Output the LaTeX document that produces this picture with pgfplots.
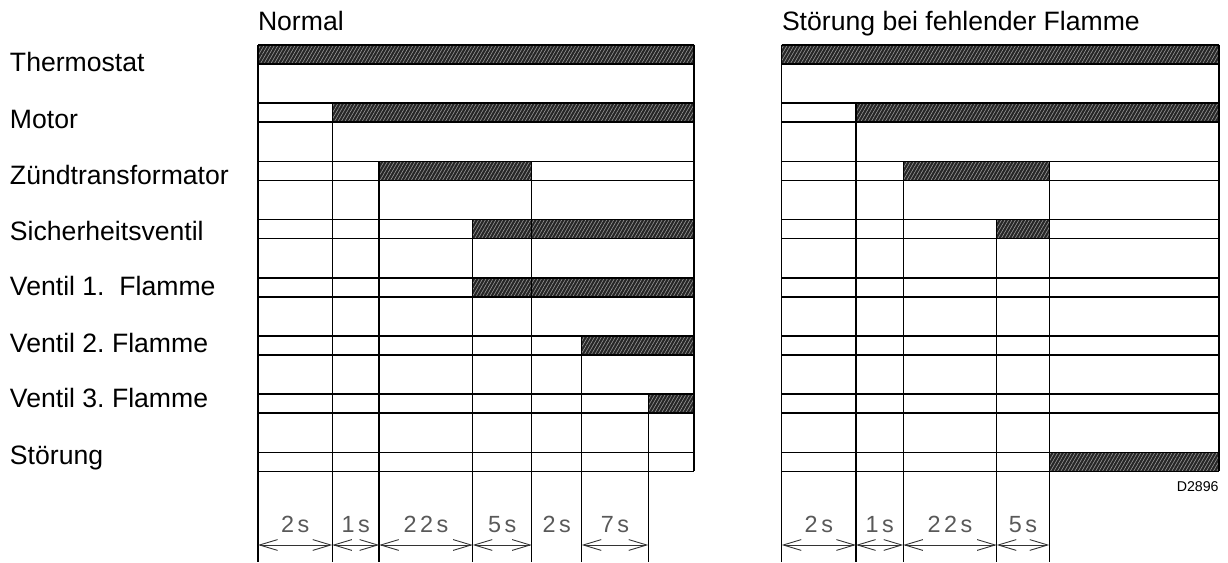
\documentclass[border=0pt]{standalone}
\usepackage{pgfplots}
\pgfplotsset{compat=1.18}
\usepackage{fontspec}
\setmainfont{Liberation Sans}
\newfontfamily\dimfont[LetterSpace=15]{Liberation Sans}
\usetikzlibrary{arrows.meta,patterns.meta}
\frenchspacing
\begin{document}
\begin{tikzpicture}[lab/.style={font=\fontsize{13.3}{16}\selectfont, inner sep=0pt, outer sep=0pt}]
\begin{axis}[scale only axis, width=614pt, height=281pt,
  xmin=0, xmax=1228, ymin=0, ymax=562, y dir=reverse,
  axis lines=none, clip=false,
  hatch/.style={draw=none, fill=black!85,
     postaction={pattern={Lines[angle=60,distance=1.5pt,line width=0.3pt]}, pattern color=black!40}},
  ln/.style={black, line width=0.75pt, mark=none},
  dim/.style={black!80, line width=0.45pt, mark=none,
     {Straight Barb[length=9pt,width=5.4pt]}-{Straight Barb[length=9pt,width=5.4pt]}}]
\path (rel axis cs:0,0) rectangle (rel axis cs:1,1);
% ---- hatched (on) segments, left panel
\addplot[hatch] coordinates {(258,45) (694,45) (694,64) (258,64) (258,45)};
\addplot[hatch] coordinates {(332.3,103.2) (694,103.2) (694,122.2) (332.3,122.2) (332.3,103.2)};
\addplot[hatch] coordinates {(379.2,161.4) (531.7,161.4) (531.7,180.4) (379.2,180.4) (379.2,161.4)};
\addplot[hatch] coordinates {(472.7,219.6) (694,219.6) (694,238.6) (472.7,238.6) (472.7,219.6)};
\addplot[hatch] coordinates {(472.7,277.8) (694,277.8) (694,296.8) (472.7,296.8) (472.7,277.8)};
\addplot[hatch] coordinates {(581.7,336) (694,336) (694,355) (581.7,355) (581.7,336)};
\addplot[hatch] coordinates {(648.3,394.2) (694,394.2) (694,413.2) (648.3,413.2) (648.3,394.2)};
% ---- hatched segments, right panel
\addplot[hatch] coordinates {(781.7,45) (1219,45) (1219,64) (781.7,64) (781.7,45)};
\addplot[hatch] coordinates {(856,103.2) (1219,103.2) (1219,122.2) (856,122.2) (856,103.2)};
\addplot[hatch] coordinates {(903.3,161.4) (1049.3,161.4) (1049.3,180.4) (903.3,180.4) (903.3,161.4)};
\addplot[hatch] coordinates {(996.7,219.6) (1049.3,219.6) (1049.3,238.6) (996.7,238.6) (996.7,219.6)};
\addplot[hatch] coordinates {(1049.3,452.4) (1219,452.4) (1219,471.4) (1049.3,471.4) (1049.3,452.4)};
% ---- horizontal row lines
\foreach \yt in {45,103.2,161.4,219.6,277.8,336,394.2,452.4} {
  \pgfmathsetmacro{\yb}{\yt+19}
  \edef\tmp{
  \noexpand\addplot[ln] coordinates {(258,\yt) (694,\yt)};
  \noexpand\addplot[ln] coordinates {(258,\yb) (694,\yb)};
  \noexpand\addplot[ln] coordinates {(781.7,\yt) (1219,\yt)};
  \noexpand\addplot[ln] coordinates {(781.7,\yb) (1219,\yb)};
  }\tmp
}
% ---- vertical lines, left panel
\addplot[ln] coordinates {(258,45) (258,562)};
\addplot[ln] coordinates {(694,45) (694,471.4)};
\addplot[ln] coordinates {(332.3,103.2) (332.3,562)};
\addplot[ln] coordinates {(379.2,161.4) (379.2,562)};
\addplot[ln] coordinates {(472.7,219.6) (472.7,562)};
\addplot[ln] coordinates {(531.7,161.4) (531.7,562)};
\addplot[ln] coordinates {(581.7,336) (581.7,562)};
\addplot[ln] coordinates {(648.3,394.2) (648.3,562)};
% ---- vertical lines, right panel
\addplot[ln] coordinates {(781.7,45) (781.7,562)};
\addplot[ln] coordinates {(1219,45) (1219,471.4)};
\addplot[ln] coordinates {(856,103.2) (856,562)};
\addplot[ln] coordinates {(903.3,161.4) (903.3,562)};
\addplot[ln] coordinates {(996.7,219.6) (996.7,562)};
\addplot[ln] coordinates {(1049.3,161.4) (1049.3,562)};
% ---- dimension arrows
\addplot[dim] coordinates {(258,545) (332.3,545)};
\addplot[dim] coordinates {(332.3,545) (379.2,545)};
\addplot[dim] coordinates {(379.2,545) (472.7,545)};
\addplot[dim] coordinates {(472.7,545) (531.7,545)};
\addplot[dim] coordinates {(581.7,545) (648.3,545)};
\addplot[dim] coordinates {(781.7,545) (856,545)};
\addplot[dim] coordinates {(856,545) (903.3,545)};
\addplot[dim] coordinates {(903.3,545) (996.7,545)};
\addplot[dim] coordinates {(996.7,545) (1049.3,545)};
% ---- dimension labels
\foreach \xa/\xb/\t in {258/332.3/2s, 332.3/379.2/1s, 379.2/472.7/22s, 472.7/531.7/5s, 531.7/581.7/2s, 581.7/648.3/7s,
                        781.7/856/2s, 856/903.3/1s, 903.3/996.7/22s, 996.7/1049.3/5s} {
  \pgfmathsetmacro{\xm}{(\xa+\xb)/2}
  \edef\tmp{\noexpand\node[anchor=base, inner sep=0pt, font=\noexpand\dimfont\noexpand\fontsize{11.7}{14}\noexpand\selectfont, text=black!65] at (axis cs:\xm,533) {\t};}\tmp
}
% ---- titles
\node[lab, anchor=base west] at (axis cs:258,31) {Normal};
\node[lab, anchor=base west] at (axis cs:782,31) {Störung bei fehlender Flamme};
% ---- row labels
\node[lab, anchor=base west] at (axis cs:10,71.5) {Thermostat};
\node[lab, anchor=base west] at (axis cs:10,128.5) {Motor};
\node[lab, anchor=base west] at (axis cs:10,184.5) {Zündtransformator};
\node[lab, anchor=base west] at (axis cs:10,240.5) {Sicherheitsventil};
\node[lab, anchor=base west] at (axis cs:10,296) {Ventil 1.\ \ Flamme};
\node[lab, anchor=base west] at (axis cs:10,352.5) {Ventil 2. Flamme};
\node[lab, anchor=base west] at (axis cs:10,408) {Ventil 3. Flamme};
\node[lab, anchor=base west] at (axis cs:10,465) {Störung};
\node[anchor=base east, inner sep=0pt, font=\fontsize{7.1}{8}\selectfont] at (axis cs:1219,492) {D2896};
\end{axis}
\end{tikzpicture}
\end{document}
